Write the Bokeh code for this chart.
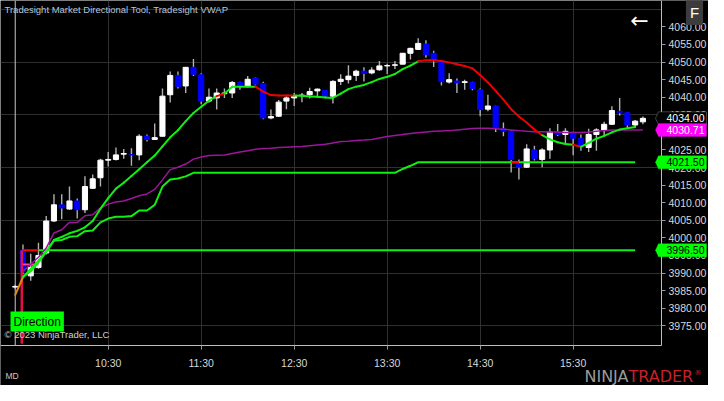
from bokeh.plotting import figure
from bokeh.models import (Range1d, SingleIntervalTicker, FixedTicker, Label, BoxAnnotation,
                          PolyAnnotation, ColumnDataSource, PrintfTickFormatter)
from bokeh.embed import file_html
from bokeh.resources import INLINE

# ---------------- data (5-minute bars, first bar closes 09:30) ----------------
first_bar_time = "09:30"
bar_minutes = 5
time_tick_labels = ["10:30", "11:30", "12:30", "13:30", "14:30", "15:30"]
price_tick_first, price_tick_last, price_tick_step = 3975, 4060, 5
price_grid_step = 15

opens = [3986.0, 3996.5, 3989.2, 3991.6, 3995.7, 4004.8, 4009.4, 4008.2, 4010.5, 4008.0,
         4014.1, 4017.1, 4022.1, 4022.3, 4023.8, 4023.7, 4023.6, 4028.9, 4028.0, 4028.9,
         4040.7, 4046.2, 4043.2, 4048.5, 4046.4, 4038.9, 4039.8, 4041.0, 4041.2, 4044.2,
         4043.2, 4045.5, 4043.9, 4034.1, 4034.6, 4038.9, 4039.8, 4040.4, 4040.7, 4041.8,
         4041.9, 4040.3, 4044.5, 4045.0, 4046.2, 4047.4, 4046.9, 4047.8, 4048.9, 4049.1,
         4049.4, 4052.5, 4053.6, 4055.1, 4052.5, 4050.3, 4044.3, 4044.6, 4044.2, 4044.2,
         4042.1, 4036.6, 4037.5, 4031.0, 4030.3, 4021.4, 4020.1, 4025.0, 4022.3, 4025.0,
         4030.1, 4029.4, 4030.1, 4028.3, 4025.7, 4029.4, 4030.7, 4032.3, 4036.0, 4035.6,
         4032.1, 4033.0]
highs = [3986.7, 3998.1, 3995.5, 3998.6, 4006.2, 4012.4, 4012.4, 4014.6, 4011.2, 4017.5,
         4018.0, 4022.5, 4024.4, 4025.7, 4025.3, 4025.5, 4029.5, 4029.4, 4032.5, 4042.5,
         4047.3, 4047.3, 4048.6, 4050.9, 4046.8, 4042.5, 4042.5, 4042.5, 4044.6, 4044.4,
         4046.0, 4045.7, 4044.4, 4036.5, 4039.2, 4040.7, 4041.2, 4041.2, 4042.7, 4042.5,
         4042.0, 4044.8, 4046.5, 4049.1, 4047.8, 4048.5, 4048.5, 4050.3, 4049.5, 4050.3,
         4052.6, 4054.1, 4056.8, 4056.2, 4053.2, 4050.5, 4046.8, 4045.3, 4045.0, 4044.4,
         4042.5, 4040.7, 4037.6, 4032.8, 4030.5, 4022.3, 4026.6, 4026.2, 4025.5, 4031.2,
         4032.4, 4031.2, 4030.2, 4029.4, 4031.0, 4031.2, 4033.0, 4037.4, 4039.8, 4035.7,
         4033.5, 4034.5]
lows = [3985.4, 3989.6, 3987.8, 3991.2, 3995.3, 4004.5, 4005.3, 4008.0, 4005.5, 4007.1,
        4014.0, 4014.6, 4020.3, 4022.0, 4022.5, 4020.5, 4022.1, 4027.4, 4027.9, 4028.8,
        4038.5, 4042.5, 4041.2, 4046.0, 4038.0, 4038.4, 4036.5, 4039.8, 4039.8, 4042.1,
        4043.0, 4043.4, 4033.7, 4033.7, 4034.4, 4036.6, 4037.5, 4038.6, 4039.6, 4039.8,
        4039.8, 4038.2, 4043.5, 4043.9, 4044.6, 4044.5, 4046.5, 4047.5, 4046.6, 4048.0,
        4049.3, 4050.7, 4053.5, 4051.2, 4048.6, 4043.3, 4043.9, 4041.2, 4042.1, 4042.0,
        4034.6, 4036.0, 4030.1, 4028.9, 4018.6, 4016.6, 4019.9, 4022.0, 4020.1, 4022.5,
        4029.0, 4026.6, 4023.5, 4024.8, 4024.4, 4024.8, 4028.9, 4032.1, 4034.8, 4031.0,
        4031.6, 4032.3]
closes = [3986.2, 3990.3, 3991.6, 3995.0, 4004.8, 4009.4, 4008.5, 4010.5, 4008.0, 4014.6,
          4016.8, 4022.1, 4022.3, 4023.6, 4024.0, 4023.6, 4028.9, 4028.0, 4028.5, 4040.3,
          4046.2, 4043.0, 4048.5, 4046.5, 4038.9, 4040.0, 4041.2, 4041.2, 4044.2, 4043.2,
          4045.1, 4043.7, 4034.1, 4034.5, 4038.6, 4039.8, 4040.5, 4040.6, 4041.6, 4042.3,
          4040.3, 4044.5, 4045.1, 4046.0, 4047.4, 4046.8, 4047.7, 4048.9, 4049.0, 4049.2,
          4052.5, 4053.9, 4055.3, 4052.1, 4050.5, 4044.4, 4045.0, 4044.1, 4044.4, 4042.5,
          4036.5, 4037.5, 4031.2, 4030.3, 4022.3, 4020.1, 4025.3, 4022.5, 4025.0, 4030.1,
          4029.4, 4030.3, 4028.3, 4026.2, 4029.4, 4030.7, 4032.3, 4036.2, 4035.6, 4032.1,
          4033.2, 4034.0]

# Market Directional Tool moving line (from the 09:30 bar) and its direction state
mdt_line = [3983.8, 3988.8, 3991.2, 3993.5, 3996.2, 3999.4, 4000.3, 4001.3, 4002.0, 4003.0,
            4004.8, 4008.3, 4011.3, 4014.0, 4015.7, 4017.6, 4019.5, 4021.5, 4023.4, 4026.0,
            4028.6, 4030.6, 4033.2, 4035.5, 4037.3, 4039.0, 4040.3, 4041.0, 4043.0, 4043.0,
            4043.0, 4043.0, 4041.6, 4040.6, 4040.5, 4040.5, 4040.5, 4040.4, 4040.2, 4040.1,
            4039.9, 4039.8, 4041.0, 4042.3, 4043.0, 4043.5, 4044.3, 4045.2, 4045.8, 4046.6,
            4048.0, 4049.0, 4050.2, 4050.5, 4050.5, 4050.3, 4049.9, 4049.4, 4048.9, 4048.2,
            4046.3, 4044.2, 4041.8, 4039.3, 4036.6, 4034.5, 4032.8, 4030.8, 4029.2, 4028.0,
            4027.2, 4026.7, 4026.5, 4025.9, 4027.0, 4028.2, 4029.0, 4030.0, 4030.8, 4031.2,
            4031.5]
mdt_state = ["start",
             "up", "up", "up", "up", "up", "up", "up", "up", "up", "up", "up", "up", "up",
             "up", "up", "up", "up", "up", "up", "up", "up", "up", "up", "up", "up",
             "down", "up", "up", "up", "up", "down", "down", "down", "down", "down",
             "up", "up", "up", "up", "up", "up", "up", "up", "up", "up", "up", "up", "up",
             "up", "up", "up",
             "down", "down", "down", "down", "down", "down", "down", "down", "down", "down",
             "down", "down", "down", "down", "down", "down",
             "up", "up", "up", "up", "down", "up", "up", "up", "up", "up", "up", "up"]

# trailing support step line (from the 09:35 bar)
support_line = [3988.9, 3990.5, 3993.0, 3996.0, 3999.2, 3999.4, 4000.3, 4000.5, 4001.9, 4002.1,
                4004.4, 4005.5, 4006.0, 4006.0, 4006.2, 4007.8, 4007.8, 4009.4, 4014.6, 4016.6,
                4016.9, 4017.5, 4018.5, 4018.5, 4018.5, 4018.5, 4018.5, 4018.5, 4018.5, 4018.5,
                4018.5, 4018.5, 4018.5, 4018.5, 4018.5, 4018.5, 4018.5, 4018.5, 4018.5, 4018.5,
                4018.5, 4018.5, 4018.5, 4018.5, 4018.5, 4018.5, 4018.5, 4018.5, 4018.5, 4019.6,
                4020.5, 4021.5, 4021.5, 4021.5, 4021.5, 4021.5, 4021.5, 4021.5, 4021.5, 4021.5,
                4021.5, 4021.5, 4021.5, 4021.5, 4021.5, 4021.5, 4021.5, 4021.5, 4021.5, 4021.5,
                4021.5, 4021.5, 4021.5, 4021.5, 4021.5, 4021.5, 4021.5, 4021.5, 4021.5, 4021.5]
support_red_bars = [64]

# Tradesight VWAP (from the 09:35 bar)
vwap = [3990.5, 3992.5, 3994.5, 3997.1, 4001.4, 4002.3, 4004.4, 4004.4, 4006.3, 4006.6,
        4008.5, 4009.6, 4010.2, 4010.5, 4011.2, 4012.0, 4012.5, 4013.8, 4016.5, 4019.4,
        4020.1, 4021.0, 4022.4, 4023.0, 4023.4, 4023.5, 4023.6, 4024.0, 4024.4, 4024.8,
        4025.2, 4025.4, 4025.5, 4025.7, 4025.8, 4025.9, 4026.0, 4026.2, 4026.4, 4026.6,
        4027.0, 4027.4, 4027.5, 4027.7, 4027.8, 4028.0, 4028.4, 4028.8, 4029.1, 4029.4,
        4029.7, 4029.9, 4030.1, 4030.3, 4030.4, 4030.5, 4030.7, 4030.9, 4031.1, 4031.2,
        4031.2, 4031.0, 4030.9, 4030.7, 4030.5, 4030.3, 4030.2, 4030.2, 4030.1, 4030.1,
        4030.0, 4030.0, 4030.0, 4030.1, 4030.3, 4030.5, 4030.7, 4030.7, 4030.7, 4030.7,
        4030.71]

# opening range levels
or_high = 3996.5
or_mid = 3992.4
or_bars = 2

# ---------------- helpers ----------------
def minutes(t):
    h, m = t.split(":")
    return int(h) * 60 + int(m)

n = len(closes)
xs = list(range(n))
tick_pos = [(minutes(t) - minutes(first_bar_time)) // bar_minutes for t in time_tick_labels]

W, H = 708, 385
RB, BB = 47, 40                      # space for price scale / time scale
ax_y0, ax_y1 = 3969.4, 4067.5        # visible price span of the chart panel
ax_x0, ax_x1 = -1.9, 83.4            # visible bar span of the chart panel
px_y = (H - BB) / (ax_y1 - ax_y0)
px_x = (W - RB) / (ax_x1 - ax_x0)

p = figure(width=W, height=H, output_backend="svg", toolbar_location=None,
           x_range=Range1d(ax_x0, ax_x0 + W / px_x), y_range=Range1d(ax_y0 - BB / px_y, ax_y1),
           x_axis_location="below", y_axis_location="right",
           background_fill_color="black", border_fill_color="black",
           min_border_left=0, min_border_top=0, min_border_right=0, min_border_bottom=0)
p.outline_line_color = None

# axes drawn at the panel edge
for ax in (p.xaxis[0], p.yaxis[0]):
    ax.axis_line_color = "#bdbdbd"
    ax.major_tick_line_color = "#9a9a9a"
    ax.minor_tick_line_color = None
    ax.major_tick_in = 0
    ax.major_tick_out = 4
    ax.major_label_text_color = "#d8d8d8"
    ax.major_label_text_font = "Liberation Sans"
    ax.major_label_text_font_size = "10.5px"
p.yaxis.fixed_location = ax_x1
p.yaxis.bounds = (ax_y0, ax_y1)
p.yaxis.ticker = FixedTicker(ticks=list(range(price_tick_first, price_tick_last + 1, price_tick_step)))
p.yaxis.formatter = PrintfTickFormatter(format="%.2f")
p.yaxis.major_label_standoff = 3
p.xaxis.fixed_location = ax_y0
p.xaxis.bounds = (ax_x0, ax_x1)
p.xaxis.ticker = FixedTicker(ticks=tick_pos)
p.xaxis.major_label_overrides = {k: t for k, t in zip(tick_pos, time_tick_labels)}
p.xaxis.major_label_standoff = 7

p.xgrid.ticker = FixedTicker(ticks=tick_pos)
p.ygrid.ticker = SingleIntervalTicker(interval=price_grid_step)
p.xgrid.grid_line_color = "#303030"
p.ygrid.grid_line_color = "#303030"
# scale areas are plain black (hide grid there)
p.add_layout(BoxAnnotation(left=ax_x1, fill_color="black", fill_alpha=1, line_color=None, level="underlay"))
p.add_layout(BoxAnnotation(top=ax_y0, fill_color="black", fill_alpha=1, line_color=None, level="underlay"))

# session break
p.segment([0], [ax_y0], [0], [ax_y1], line_color="#c8c8c8", line_width=1)

# candles
up = [c >= o for o, c in zip(opens, closes)]
src = ColumnDataSource(dict(
    x=xs, high=highs, low=lows,
    top=[max(o, c) for o, c in zip(opens, closes)],
    bottom=[min(o, c) for o, c in zip(opens, closes)],
    color=["#ffffff" if u else "#0000ff" for u in up]))
p.segment("x", "high", "x", "low", source=src, line_color="#b0b0b0", line_width=1.4)
p.vbar("x", 0.66, "top", "bottom", source=src, fill_color="color", line_color="color",
       line_width=1)

# opening range lines
p.segment([0.85], [or_high], [0.85], [ax_y0 + 0.5], line_color="#e0104a", line_width=2.5)
p.line([1, 1 + or_bars], [or_mid, or_mid], line_color="#ff40a0", line_width=2)
p.line([1, 1 + or_bars], [or_high, or_high], line_color="#ff0000", line_width=2)
p.line([1 + or_bars, len(support_line)], [or_high, or_high], line_color="#11ee11", line_width=2)

# vwap
p.line(xs[1:1 + len(vwap)], vwap, line_color="#9b169b", line_width=1.5)

# support step line
sx = xs[1:1 + len(support_line)]
p.line(sx, support_line, line_color="#11ee11", line_width=2)
p.segment([sx[b - 1] for b in support_red_bars], [support_line[b - 1] for b in support_red_bars],
          [sx[b] for b in support_red_bars], [support_line[b] for b in support_red_bars],
          line_color="#ff0000", line_width=2)

# directional line
cmap = {"start": "#e08a10", "up": "#11ee11", "down": "#ee0000"}
seg = dict(x0=[], y0=[], x1=[], y1=[], c=[])
for i in range(1, len(mdt_line)):
    seg["x0"].append(xs[i - 1]); seg["y0"].append(mdt_line[i - 1])
    seg["x1"].append(xs[i]); seg["y1"].append(mdt_line[i])
    seg["c"].append(cmap[mdt_state[i - 1]])
p.segment("x0", "y0", "x1", "y1", source=ColumnDataSource(seg), line_color="c",
          line_width=2, line_cap="round")

# price tags on the price scale
def tag(val, fill, txt_color, border=None):
    h = 6.5 / px_y
    tip = ax_x1 - 6 / px_x
    left = ax_x1 - 3 / px_x
    right = ax_x1 + (RB - 2) / px_x
    p.add_layout(PolyAnnotation(xs=[tip, left, right, right, left], ys=[val, val + h, val + h, val - h, val - h],
                                fill_color=fill, fill_alpha=1, line_color=border or fill, line_width=1,
                                level="overlay"))
    p.add_layout(Label(x=ax_x1 + (RB / 2 + 0.5) / px_x, y=val, text=f"{val:.2f}", text_color=txt_color,
                       text_font="Liberation Sans", text_font_size="10.5px",
                       text_align="center", text_baseline="middle", level="overlay"))

tag(closes[-1], "#000000", "#ffffff", border="#c8c8c8")
tag(vwap[-1], "#ff00ff", "#ffffff")
tag(support_line[-1], "#00ff00", "#000000")
tag(or_high, "#00ff00", "#000000")

p.add_layout(Label(x=4, y=H - 9, x_units="screen", y_units="screen",
                   text="Tradesight Market Directional Tool, Tradesight VWAP",
                   text_color="#b4c6da", text_font="Liberation Sans", text_font_size="9.5px",
                   text_baseline="middle"))
p.add_layout(Label(x=W - RB - 22, y=H - 20, x_units="screen", y_units="screen", text="←",
                   text_color="#ffffff", text_font="DejaVu Sans", text_font_size="22px",
                   text_align="center", text_baseline="middle"))
p.add_layout(Label(x=W - 14, y=H - 12, x_units="screen", y_units="screen", text="F",
                   text_color="#ffffff", text_font="Liberation Sans", text_font_size="15px",
                   text_align="center", text_baseline="middle",
                   background_fill_color="#3c3c3c", padding=4, level="overlay"))
p.add_layout(Label(x=10, y=BB + 24, x_units="screen", y_units="screen", text="Direction",
                   text_color="#000000", text_font="Liberation Sans", text_font_size="12px",
                   text_baseline="middle", background_fill_color="#00ff00", padding=3))
p.add_layout(Label(x=4, y=BB + 11, x_units="screen", y_units="screen", text="© 2023 NinjaTrader, LLC",
                   text_color="#d0d0d0", text_font="Liberation Sans", text_font_size="9.5px",
                   text_baseline="middle"))
p.add_layout(Label(x=5, y=10, x_units="screen", y_units="screen", text="MD",
                   text_color="#c8c8c8", text_font="Liberation Sans", text_font_size="8.5px",
                   text_baseline="middle"))
p.add_layout(Label(x=W - 80, y=9, x_units="screen", y_units="screen", text="NINJA",
                   text_color="#9a9a9a", text_font="DejaVu Sans", text_font_size="16px",
                   text_align="right", text_baseline="middle"))
p.add_layout(Label(x=W - 80, y=9, x_units="screen", y_units="screen", text="TRADER",
                   text_color="#c8202a", text_font="DejaVu Sans", text_font_size="16px",
                   text_align="left", text_baseline="middle"))
p.add_layout(Label(x=W - 14, y=13, x_units="screen", y_units="screen", text="®",
                   text_color="#c8202a", text_font="DejaVu Sans", text_font_size="7px",
                   text_align="left", text_baseline="middle"))

open("out.html", "w").write(file_html(p, INLINE))
